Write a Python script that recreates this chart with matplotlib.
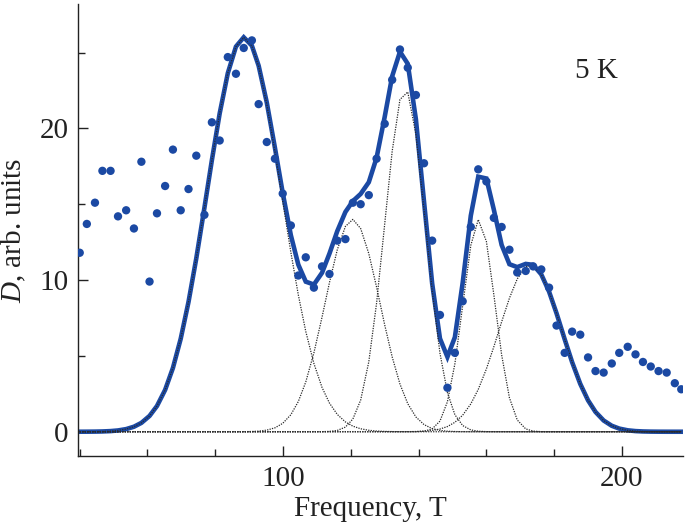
import numpy as np
import matplotlib
matplotlib.use("Agg")
import matplotlib.pyplot as plt

# measured spectrum (points)
freq = [40.0, 42.1, 44.5, 46.7, 49.1, 51.3, 53.7, 56.0, 58.2, 60.6,
        62.8, 65.2, 67.5, 69.8, 72.1, 74.4, 76.8, 79.0, 81.3, 83.7,
        86.1, 88.4, 90.8, 92.8, 95.2, 97.6, 99.9, 102.3, 104.5, 106.7,
        109.1, 111.5, 113.7, 116.0, 118.4, 120.6, 122.9, 125.3, 127.6, 130.0,
        132.2, 134.5, 136.8, 139.2, 141.6, 144.0, 146.3, 148.5, 150.7, 153.0,
        155.4, 157.6, 160.0, 162.2, 164.5, 166.8, 169.1, 171.6, 173.8, 176.2,
        178.5, 180.7, 183.1, 185.3, 187.7, 190.0, 192.2, 194.6, 197.0, 199.2,
        201.7, 204.0, 206.2, 208.5, 210.8, 213.2, 215.6, 217.5]
signal = [11.8, 13.7, 15.1, 17.2, 17.2, 14.2, 14.6, 13.4, 17.8, 9.9,
          14.4, 16.2, 18.6, 14.6, 16.0, 18.2, 14.3, 20.4, 19.2, 24.7,
          23.6, 25.3, 25.8, 21.6, 19.1, 18.0, 15.7, 13.6, 10.3, 11.5,
          9.5, 10.9, 10.4, 12.6, 12.7, 15.1, 15.0, 15.6, 18.0, 20.3,
          23.2, 25.2, 24.0, 22.2, 17.7, 12.6, 7.7, 2.9, 5.2, 8.6,
          13.5, 17.3, 16.5, 14.1, 13.5, 12.0, 10.5, 10.6, 10.9, 10.7,
          9.5, 7.0, 5.2, 6.6, 6.4, 4.9, 4.0, 3.9, 4.5, 5.2,
          5.6, 5.1, 4.6, 4.3, 4.0, 3.9, 3.2, 2.8]

# gaussian components of the fit
peak_centers = [88.5, 120.5, 136.0, 157.8, 173.0]
peak_widths = [11.0, 8.1, 6.0, 4.7, 9.3]
peak_heights = [26.0, 14.0, 22.6, 14.0, 11.0]

plt.rcParams['font.family'] = ['Liberation Serif', 'DejaVu Serif']
plt.rcParams['mathtext.fontset'] = 'custom'
plt.rcParams['mathtext.rm'] = 'Liberation Serif'
plt.rcParams['mathtext.it'] = 'Liberation Serif:italic'

blue = '#1b49a3'
ink = '#222222'

x = np.array(freq)
components = [h * np.exp(-(x - c) ** 2 / (2 * w ** 2))
              for c, w, h in zip(peak_centers, peak_widths, peak_heights)]
fit = np.sum(components, axis=0)

fig = plt.figure(figsize=(6.85, 5.25), dpi=100)
ax = fig.add_axes([0.1139, 0.1314, 0.8831, 0.861])

ax.plot(x, fit, color=blue, lw=3.3, zorder=2, solid_joinstyle='miter')
for comp in components:
    ax.plot(x, comp, color='#2a2a2a', lw=0.9, ls=(0, (1, 1)), zorder=3)
ax.scatter(freq, signal, s=36, color=blue, edgecolors='none', zorder=4)

ax.set_xlim(39.5, 218.0)
ax.set_ylim(-1.6, 28.2)

ax.set_xticks([100, 200])
ax.set_xticks(np.arange(40, 220, 20), minor=True)
ax.set_yticks([0, 10, 20])
ax.set_yticks([5, 15, 25], minor=True)

for side in ['top', 'right']:
    ax.spines[side].set_visible(False)
for side in ['left', 'bottom']:
    ax.spines[side].set_color(ink)
    ax.spines[side].set_linewidth(1.0)

ax.tick_params(which='both', direction='in', colors=ink, labelsize=21)
ax.tick_params(which='major', length=7, width=1.0, pad=7)
ax.tick_params(which='minor', length=5, width=1.0)

ax.set_xlabel('Frequency, T', fontsize=21, color=ink)
ax.xaxis.set_label_coords(0.483, -0.088)
ax.set_ylabel('$D$, arb. units', fontsize=21, color=ink)
ax.yaxis.set_label_coords(-0.082, 0.5)

ax.text(192.6, 23.8, '5 K', fontsize=21, color=ink, ha='center', va='center')

fig.savefig('out.png', dpi=100)
